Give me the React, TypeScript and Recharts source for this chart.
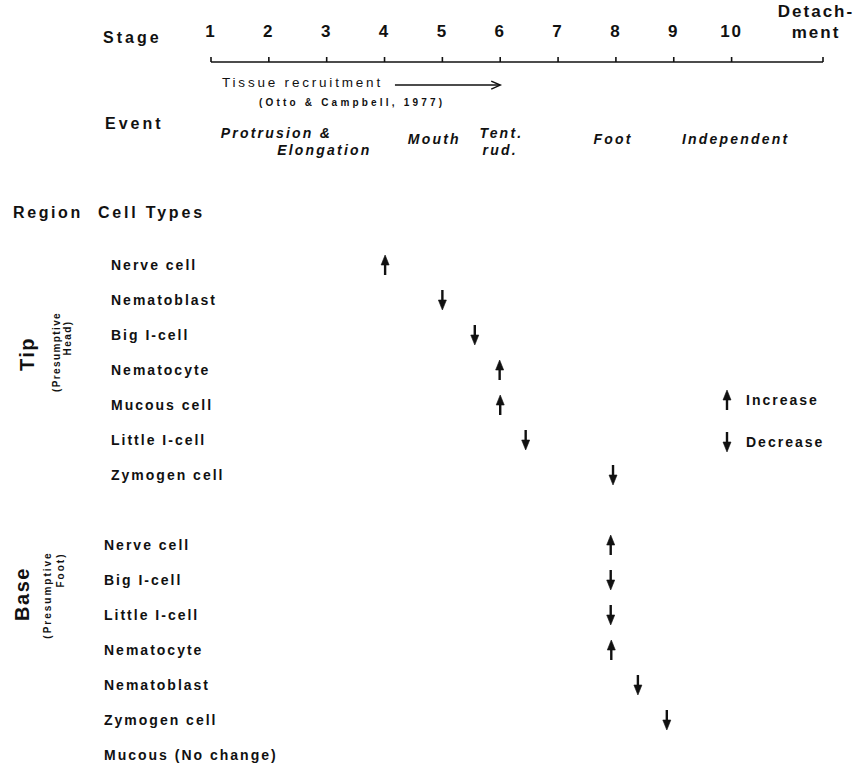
import React from "react";
import {
  ScatterChart,
  Scatter,
  XAxis,
  YAxis,
  ReferenceLine,
  Customized,
} from "recharts";

// ---------- data ----------
const stageTicks = [1, 2, 3, 4, 5, 6, 7, 8, 9, 10, 11.58];
const stageTickLabels = ["1", "2", "3", "4", "5", "6", "7", "8", "9", "10", "Detach-\nment"];

const eventLabels = ["Protrusion &", "Elongation", "Mouth", "Tent.", "rud.", "Foot", "Independent"];
const eventStages = [2.13, 2.96, 4.86, 6.02, 6.0, 7.95, 10.07];
const eventLine = ["upper", "lower", "middle", "upper", "lower", "middle", "middle"];

const tipCells = ["Nerve cell", "Nematoblast", "Big I-cell", "Nematocyte", "Mucous cell", "Little I-cell", "Zymogen cell"];
const tipStages = [4.01, 5.0, 5.56, 5.99, 6.0, 6.44, 7.95];
const tipChange = ["up", "down", "down", "up", "up", "down", "down"];

const baseCells = ["Nerve cell", "Big I-cell", "Little I-cell", "Nematocyte", "Nematoblast", "Zymogen cell", "Mucous (No change)"];
const baseStages = [7.91, 7.91, 7.91, 7.92, 8.38, 8.88, null];
const baseChange = ["up", "down", "down", "up", "down", "down", null];

const recruitmentFrom = 4.18;
const recruitmentTo = 6.0;

const legendLabels = ["Increase", "Decrease"];
const legendDirs = ["up", "down"];

// ---------- layout constants ----------
const W = 864;
const H = 769;
const AXIS_Y = 62;
const FONT = '"Liberation Sans", Arial, Helvetica, sans-serif';
const INK = "#111";
const BASE_OFFSET = 8; // row slot where base rows start
const EVENT_ROW = -3.66;
const RECRUIT_ROW = -5.14;

// ---------- derived tables ----------
const tipRows = tipCells.map((name, i) => ({ name, slot: i, region: "tip" }));
const baseRows = baseCells.map((name, i) => ({ name, slot: BASE_OFFSET + i, region: "base" }));
const allRows = [...tipRows, ...baseRows];
const rowSlots = allRows.map((r) => r.slot);

const arrowData = [
  ...tipStages.map((s, i) => ({ stage: s, slot: i, change: tipChange[i] })),
  ...baseStages
    .map((s, i) => ({ stage: s, slot: BASE_OFFSET + i, change: baseChange[i] }))
    .filter((d) => d.stage !== null),
];

const eventData = eventLabels.map((label, i) => ({
  stage: eventStages[i],
  slot: EVENT_ROW,
  label,
  line: eventLine[i],
}));

// ---------- marks ----------
function Arrow({ cx, cy, dir }: { cx: number; cy: number; dir: string }) {
  const s = dir === "up" ? -1 : 1;
  const tipY = cy + s * 10;
  const tailY = cy - s * 10;
  const headBase = tipY - s * 10;
  return (
    <g>
      <line x1={cx} y1={tailY} x2={cx} y2={headBase} stroke={INK} strokeWidth={2.4} />
      <polygon
        points={`${cx},${tipY} ${cx - 4},${headBase} ${cx + 4},${headBase}`}
        fill={INK}
        stroke={INK}
        strokeWidth={0.6}
        strokeLinejoin="round"
      />
    </g>
  );
}

const ArrowShape = (props: any) => {
  const { cx, cy, payload } = props;
  if (cx == null || cy == null) return null;
  return <Arrow cx={cx} cy={cy} dir={payload.change} />;
};

const EventShape = (props: any) => {
  const { cx, cy, payload } = props;
  if (cx == null || cy == null) return null;
  const dy = payload.line === "upper" ? -4 : payload.line === "lower" ? 13 : 2;
  return (
    <text
      x={cx}
      y={cy + dy + 5}
      textAnchor="middle"
      fontFamily={FONT}
      fontSize={14}
      fontWeight="bold"
      fontStyle="italic"
      letterSpacing={2.2}
      fill={INK}
    >
      {payload.label}
    </text>
  );
};

const StageTick = (props: any) => {
  const { x, payload } = props;
  const idx = stageTicks.indexOf(payload.value);
  const label = stageTickLabels[idx] ?? String(payload.value);
  const lines = label.split("\n");
  if (lines.length === 1) {
    return (
      <text
        x={x}
        y={AXIS_Y - 25}
        textAnchor="middle"
        fontFamily={FONT}
        fontSize={17}
        fontWeight="bold"
        letterSpacing={2}
        fill={INK}
      >
        {label}
      </text>
    );
  }
  return (
    <g>
      <text x={x - 7} y={AXIS_Y - 45} textAnchor="middle" fontFamily={FONT} fontSize={17} fontWeight="bold" letterSpacing={2} fill={INK}>
        {lines[0]}
      </text>
      <text x={x - 7} y={AXIS_Y - 24} textAnchor="middle" fontFamily={FONT} fontSize={17} fontWeight="bold" letterSpacing={2} fill={INK}>
        {lines[1]}
      </text>
    </g>
  );
};

const RowTick = (props: any) => {
  const { y, payload } = props;
  const row = allRows.find((r) => r.slot === payload.value);
  if (!row) return null;
  const lx = row.region === "tip" ? 111 : 104;
  return (
    <text
      x={lx}
      y={y + 5}
      textAnchor="start"
      fontFamily={FONT}
      fontSize={14}
      fontWeight="bold"
      letterSpacing={2}
      fill={INK}
    >
      {row.name}
    </text>
  );
};

const RecruitmentShape = (props: any) => {
  const { x1, y1, x2, y2 } = props;
  if (x1 == null) return null;
  return (
    <g>
      <line x1={x1} y1={y1} x2={x2} y2={y2} stroke={INK} strokeWidth={1.5} />
      <polyline
        points={`${x2 - 9},${y2 - 4} ${x2},${y2} ${x2 - 9},${y2 + 4}`}
        fill="none"
        stroke={INK}
        strokeWidth={1.5}
      />
      <text x={x1 - 12} y={y1 + 2} textAnchor="end" fontFamily={FONT} fontSize={13.5} letterSpacing={2.8} fill={INK}>
        Tissue recruitment
      </text>
      <text x={x1 - 136} y={y1 + 21} textAnchor="start" fontFamily={FONT} fontSize={10} fontWeight="bold" letterSpacing={3.2} fill={INK}>
        (Otto &amp; Campbell, 1977)
      </text>
    </g>
  );
};

const StaticLabels = () => {
  const bold = { fontFamily: FONT, fontWeight: "bold" as const, fill: INK };
  return (
    <g>
      <text x={103} y={43} fontSize={16} letterSpacing={3} {...bold}>Stage</text>
      <text x={105} y={129} fontSize={16} letterSpacing={3} {...bold}>Event</text>
      <text x={13} y={218} fontSize={16} letterSpacing={2.6} {...bold}>Region</text>
      <text x={98} y={218} fontSize={16} letterSpacing={2.8} {...bold}>Cell Types</text>

      <text transform="translate(34,354) rotate(-90)" textAnchor="middle" fontSize={20} letterSpacing={1.5} {...bold}>Tip</text>
      <text transform="translate(60,352) rotate(-90)" textAnchor="middle" fontSize={10} letterSpacing={1.4} {...bold}>(Presumptive</text>
      <text transform="translate(71,338) rotate(-90)" textAnchor="middle" fontSize={10} letterSpacing={1.4} {...bold}>Head)</text>

      <text transform="translate(29,594) rotate(-90)" textAnchor="middle" fontSize={20} letterSpacing={1.5} {...bold}>Base</text>
      <text transform="translate(51,595) rotate(-90)" textAnchor="middle" fontSize={10} letterSpacing={2} {...bold}>(Presumptive</text>
      <text transform="translate(64,570) rotate(-90)" textAnchor="middle" fontSize={10} letterSpacing={2} {...bold}>Foot)</text>

      {legendLabels.map((lab, i) => (
        <g key={lab}>
          <Arrow cx={727} cy={400 + i * 42} dir={legendDirs[i]} />
          <text x={746} y={405 + i * 42} fontSize={14} letterSpacing={2} {...bold}>{lab}</text>
        </g>
      ))}
    </g>
  );
};

export default function App() {
  return (
    <div style={{ position: "absolute", left: 0, top: 0, width: W, height: H, background: "#fff" }}>
      <ScatterChart width={W} height={H} margin={{ top: 12, right: 41, bottom: 0, left: 0 }}>
        <XAxis
          xAxisId={0}
          type="number"
          dataKey="stage"
          orientation="top"
          domain={[1, 11.58]}
          allowDataOverflow
          ticks={stageTicks}
          interval={0}
          height={50}
          tickSize={5}
          axisLine={{ stroke: INK, strokeWidth: 1.6 }}
          tickLine={{ stroke: INK, strokeWidth: 1.6 }}
          tick={<StageTick />}
        />
        <YAxis
          yAxisId={0}
          type="number"
          dataKey="slot"
          reversed
          domain={[-5.8, 14.4]}
          allowDataOverflow
          ticks={rowSlots}
          interval={0}
          width={211}
          axisLine={false}
          tickLine={false}
          tick={<RowTick />}
        />
        <ReferenceLine
          segment={[
            { x: recruitmentFrom, y: RECRUIT_ROW },
            { x: recruitmentTo, y: RECRUIT_ROW },
          ]}
          shape={<RecruitmentShape />}
          ifOverflow="visible"
        />
        <Scatter data={eventData} shape={<EventShape />} isAnimationActive={false} />
        <Scatter data={arrowData} shape={<ArrowShape />} isAnimationActive={false} />
        <Customized component={StaticLabels} />
      </ScatterChart>
    </div>
  );
}
